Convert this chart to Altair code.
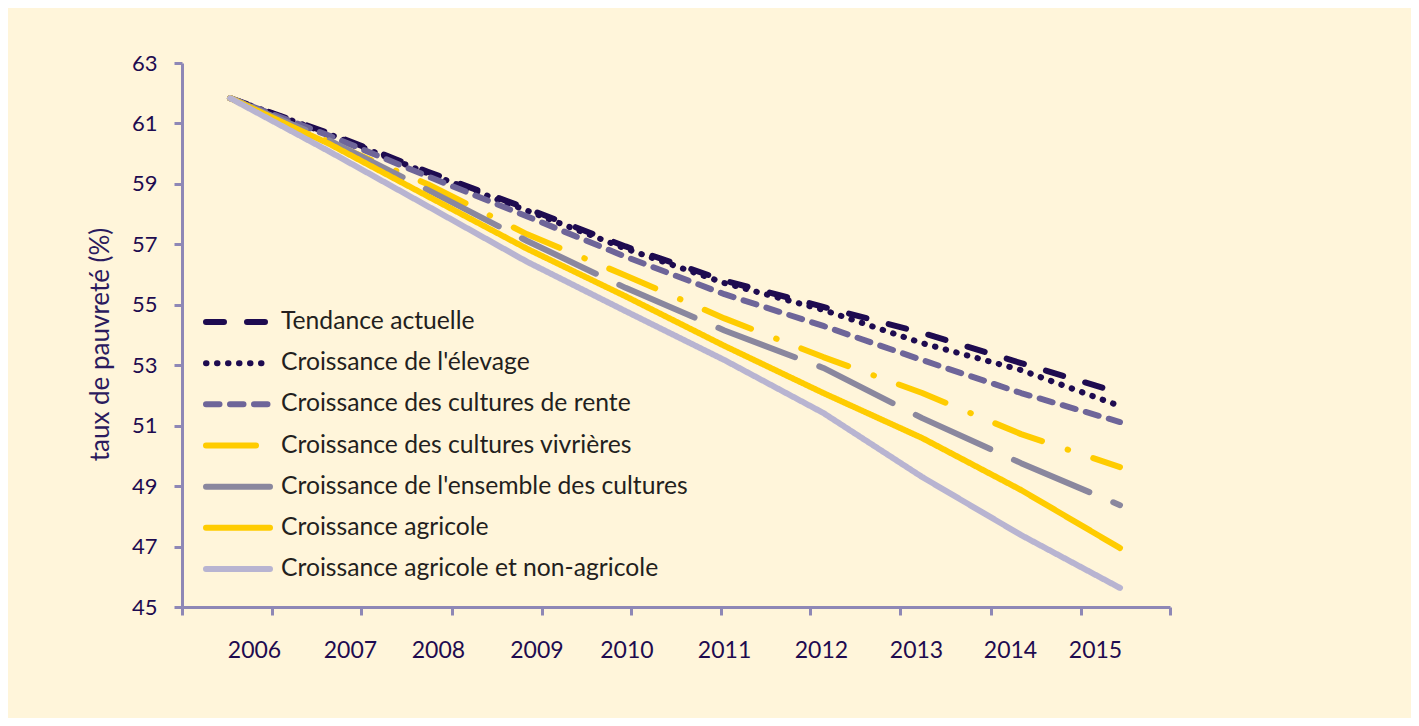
import altair as alt
import pandas as pd

# ---- data ----
years = [2006, 2007, 2008, 2009, 2010, 2011, 2012, 2013, 2014, 2015]

series_names = [
    "Tendance actuelle",
    "Croissance de l'élevage",
    "Croissance des cultures de rente",
    "Croissance des cultures vivrières",
    "Croissance de l'ensemble des cultures",
    "Croissance agricole",
    "Croissance agricole et non-agricole",
]

tendance = [61.84, 60.68, 59.40, 58.19, 56.93, 55.80, 54.93, 54.07, 53.07, 52.08]
elevage = [61.84, 60.65, 59.35, 58.12, 56.86, 55.72, 54.83, 53.73, 52.84, 51.65]
rente = [61.84, 60.60, 59.25, 57.93, 56.59, 55.35, 54.30, 53.17, 52.08, 51.12]
vivrieres = [61.84, 60.39, 58.99, 57.34, 55.97, 54.55, 53.27, 52.08, 50.72, 49.63]
ensemble = [61.84, 60.45, 58.80, 57.12, 55.56, 54.15, 52.91, 51.25, 49.76, 48.37]
agricole = [61.84, 60.33, 58.59, 56.86, 55.28, 53.64, 52.08, 50.59, 48.87, 46.95]
non_agricole = [61.84, 60.08, 58.26, 56.43, 54.79, 53.17, 51.42, 49.30, 47.38, 45.63]

y_ticks = [45, 47, 49, 51, 53, 55, 57, 59, 61, 63]

# ---- styles ----
colors = ["#1E0B50", "#1E0B50", "#6E6599", "#FFCC00", "#8A879E", "#FFCC00", "#B8B4D1"]
dashes = [[18, 23], [0.5, 10.5], [13.5, 10.5], [50, 27, 0.5, 26.5], [82, 26], [1, 0], [1, 0]]

axis_color = "#8E87B6"
label_color = "#1E0B50"

all_values = [tendance, elevage, rente, vivrieres, ensemble, agricole, non_agricole]
rows = []
for name, vals in zip(series_names, all_values):
    for yr, v in zip(years, vals):
        rows.append({"serie": name, "annee": yr, "taux": v})
df = pd.DataFrame(rows)
legend_df = pd.DataFrame({"serie": series_names})

color_scale = alt.Scale(domain=series_names, range=colors)
dash_scale = alt.Scale(domain=series_names, range=dashes)
x_scale = alt.Scale(domain=[2005.5146, 2015.5056], nice=False, zero=False)
y_scale = alt.Scale(domain=[45, 63], nice=False, zero=False)

# axis tick marks and label anchors (Excel-style offset between them)
x_tick_values = [2005.5150, 2006.425, 2007.325, 2008.245, 2009.155, 2010.055,
                 2010.965, 2011.865, 2012.775, 2013.695, 2014.605, 2015.5050]
x_label_values = [2006.243, 2007.213, 2008.103, 2009.099, 2010.009,
                  2010.996, 2011.976, 2012.937, 2013.888, 2014.747]

lines = alt.Chart(df).mark_line(strokeWidth=6, strokeCap="round", strokeJoin="round").encode(
    x=alt.X("annee:Q", scale=x_scale,
            axis=alt.Axis(orient="bottom", values=x_tick_values, labels=False, ticks=True,
                          tickSize=8, tickWidth=3, tickColor=axis_color,
                          domainColor=axis_color, domainWidth=3, grid=False, title=None)),
    y=alt.Y("taux:Q", scale=y_scale,
            axis=alt.Axis(values=y_ticks, tickSize=8, tickWidth=3, tickColor=axis_color,
                          domainColor=axis_color, domainWidth=3, grid=False,
                          labelFontSize=22, labelColor=label_color, labelPadding=17,
                          labelFont="Lato",
                          title="taux de pauvreté (%)", titleFontSize=26,
                          titleFontWeight="normal", titleColor="#2B1B5E", titleFont="Lato",
                          titleAngle=270, titleX=-82, titleY=281,
                          titleAlign="center", titleBaseline="middle")),
    color=alt.Color("serie:N", scale=color_scale, legend=None),
    strokeDash=alt.StrokeDash("serie:N", scale=dash_scale, legend=None),
    order=alt.Order("annee:Q"),
)

year_labels = alt.Chart(df).mark_point(opacity=0).encode(
    x=alt.X("annee:Q", scale=x_scale,
            axis=alt.Axis(orient="bottom", values=x_label_values,
                          labelExpr="format(round(datum.value), 'd')",
                          domain=False, ticks=False, tickSize=0, grid=False,
                          labelFontSize=23, labelColor=label_color, labelFont="Lato",
                          labelPadding=32, title=None)),
    y=alt.Y("taux:Q", scale=y_scale, axis=None),
)

legend_y = alt.Y("serie:N",
                 scale=alt.Scale(type="point", domain=series_names, range=[259, 506], padding=0),
                 axis=None)

legend_rules = alt.Chart(legend_df).mark_rule(strokeWidth=6, strokeCap="round").encode(
    x=alt.value(24), x2=alt.value(88),
    y=legend_y,
    color=alt.Color("serie:N", scale=color_scale, legend=None),
    strokeDash=alt.StrokeDash("serie:N", scale=dash_scale, legend=None),
)

legend_text = alt.Chart(legend_df).mark_text(
    align="left", baseline="middle", font="Lato", fontSize=24.7, color="#231F20"
).encode(
    x=alt.value(99),
    y=legend_y,
    text="serie:N",
)

chart = alt.layer(lines, year_labels, legend_rules, legend_text).resolve_scale(
    y="independent"
).resolve_axis(
    x="independent"
).properties(
    width=988,
    height=544,
    padding={"left": 174, "top": 55, "right": 241, "bottom": 111},
    autosize=alt.AutoSizeParams(type="none"),
    background="#FFF5DA",
).configure(font="Lato").configure_view(stroke="transparent", strokeWidth=0)

chart.save("out.html", embed_options={"renderer": "svg", "actions": False})
